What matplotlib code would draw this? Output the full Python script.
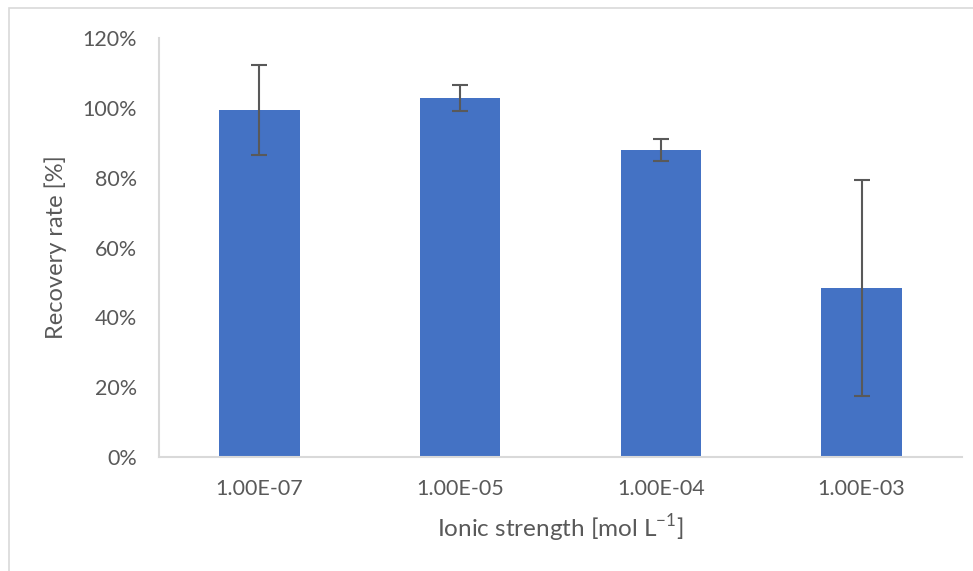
import matplotlib
matplotlib.use("Agg")
import matplotlib.pyplot as plt
import numpy as np
from matplotlib.ticker import PercentFormatter
from matplotlib.patches import Rectangle

plt.rcParams["font.family"] = "Lato"
plt.rcParams["mathtext.fontset"] = "custom"
plt.rcParams["mathtext.rm"] = "Lato"

# dados
categorias = ["1.00E-07", "1.00E-05", "1.00E-04", "1.00E-03"]
recuperacao = [99.4, 102.8, 87.9, 48.4]
erro = [12.8, 3.8, 3.2, 31.0]

cinza_texto = "#595959"
cinza_linha = "#D9D9D9"

fig = plt.figure(figsize=(9.73, 5.71), dpi=100)
ax = fig.add_axes([159 / 973, 1 - 457 / 571, (962 - 159) / 973, (457 - 38) / 571])

x = np.arange(len(categorias))
ax.bar(x, recuperacao, width=0.4, color="#4472C4", zorder=2)
ax.errorbar(x, recuperacao, yerr=erro, fmt="none", ecolor=cinza_texto,
            elinewidth=1.5, capsize=6, capthick=1.5, zorder=3)

ax.set_xlim(-0.5, len(categorias) - 0.5)
ax.set_ylim(0, 120)
ax.set_yticks(np.arange(0, 121, 20))
ax.yaxis.set_major_formatter(PercentFormatter(100, decimals=0))
ax.set_xticks(x)
ax.set_xticklabels(categorias)

ax.tick_params(axis="both", length=0, labelsize=15.5, colors=cinza_texto)
ax.tick_params(axis="y", pad=16)
ax.tick_params(axis="x", pad=16)

for lado in ["top", "right"]:
    ax.spines[lado].set_visible(False)
for lado in ["left", "bottom"]:
    ax.spines[lado].set_color(cinza_linha)
    ax.spines[lado].set_linewidth(1.5)

ax.set_ylabel("Recovery rate [%]", fontsize=17, color=cinza_texto, labelpad=11)
ax.set_xlabel("Ionic strength [mol L$^{\\mathregular{-1}}$]", fontsize=17.5,
              color=cinza_texto, labelpad=9)

# borda do grafico (estilo excel)
fig.patches.append(Rectangle((9 / 973, -0.1), 1.2, 1 - 8 / 571 + 0.1,
                             transform=fig.transFigure, fill=False,
                             edgecolor=cinza_linha, linewidth=1.2))

fig.savefig("out.png", dpi=100)
